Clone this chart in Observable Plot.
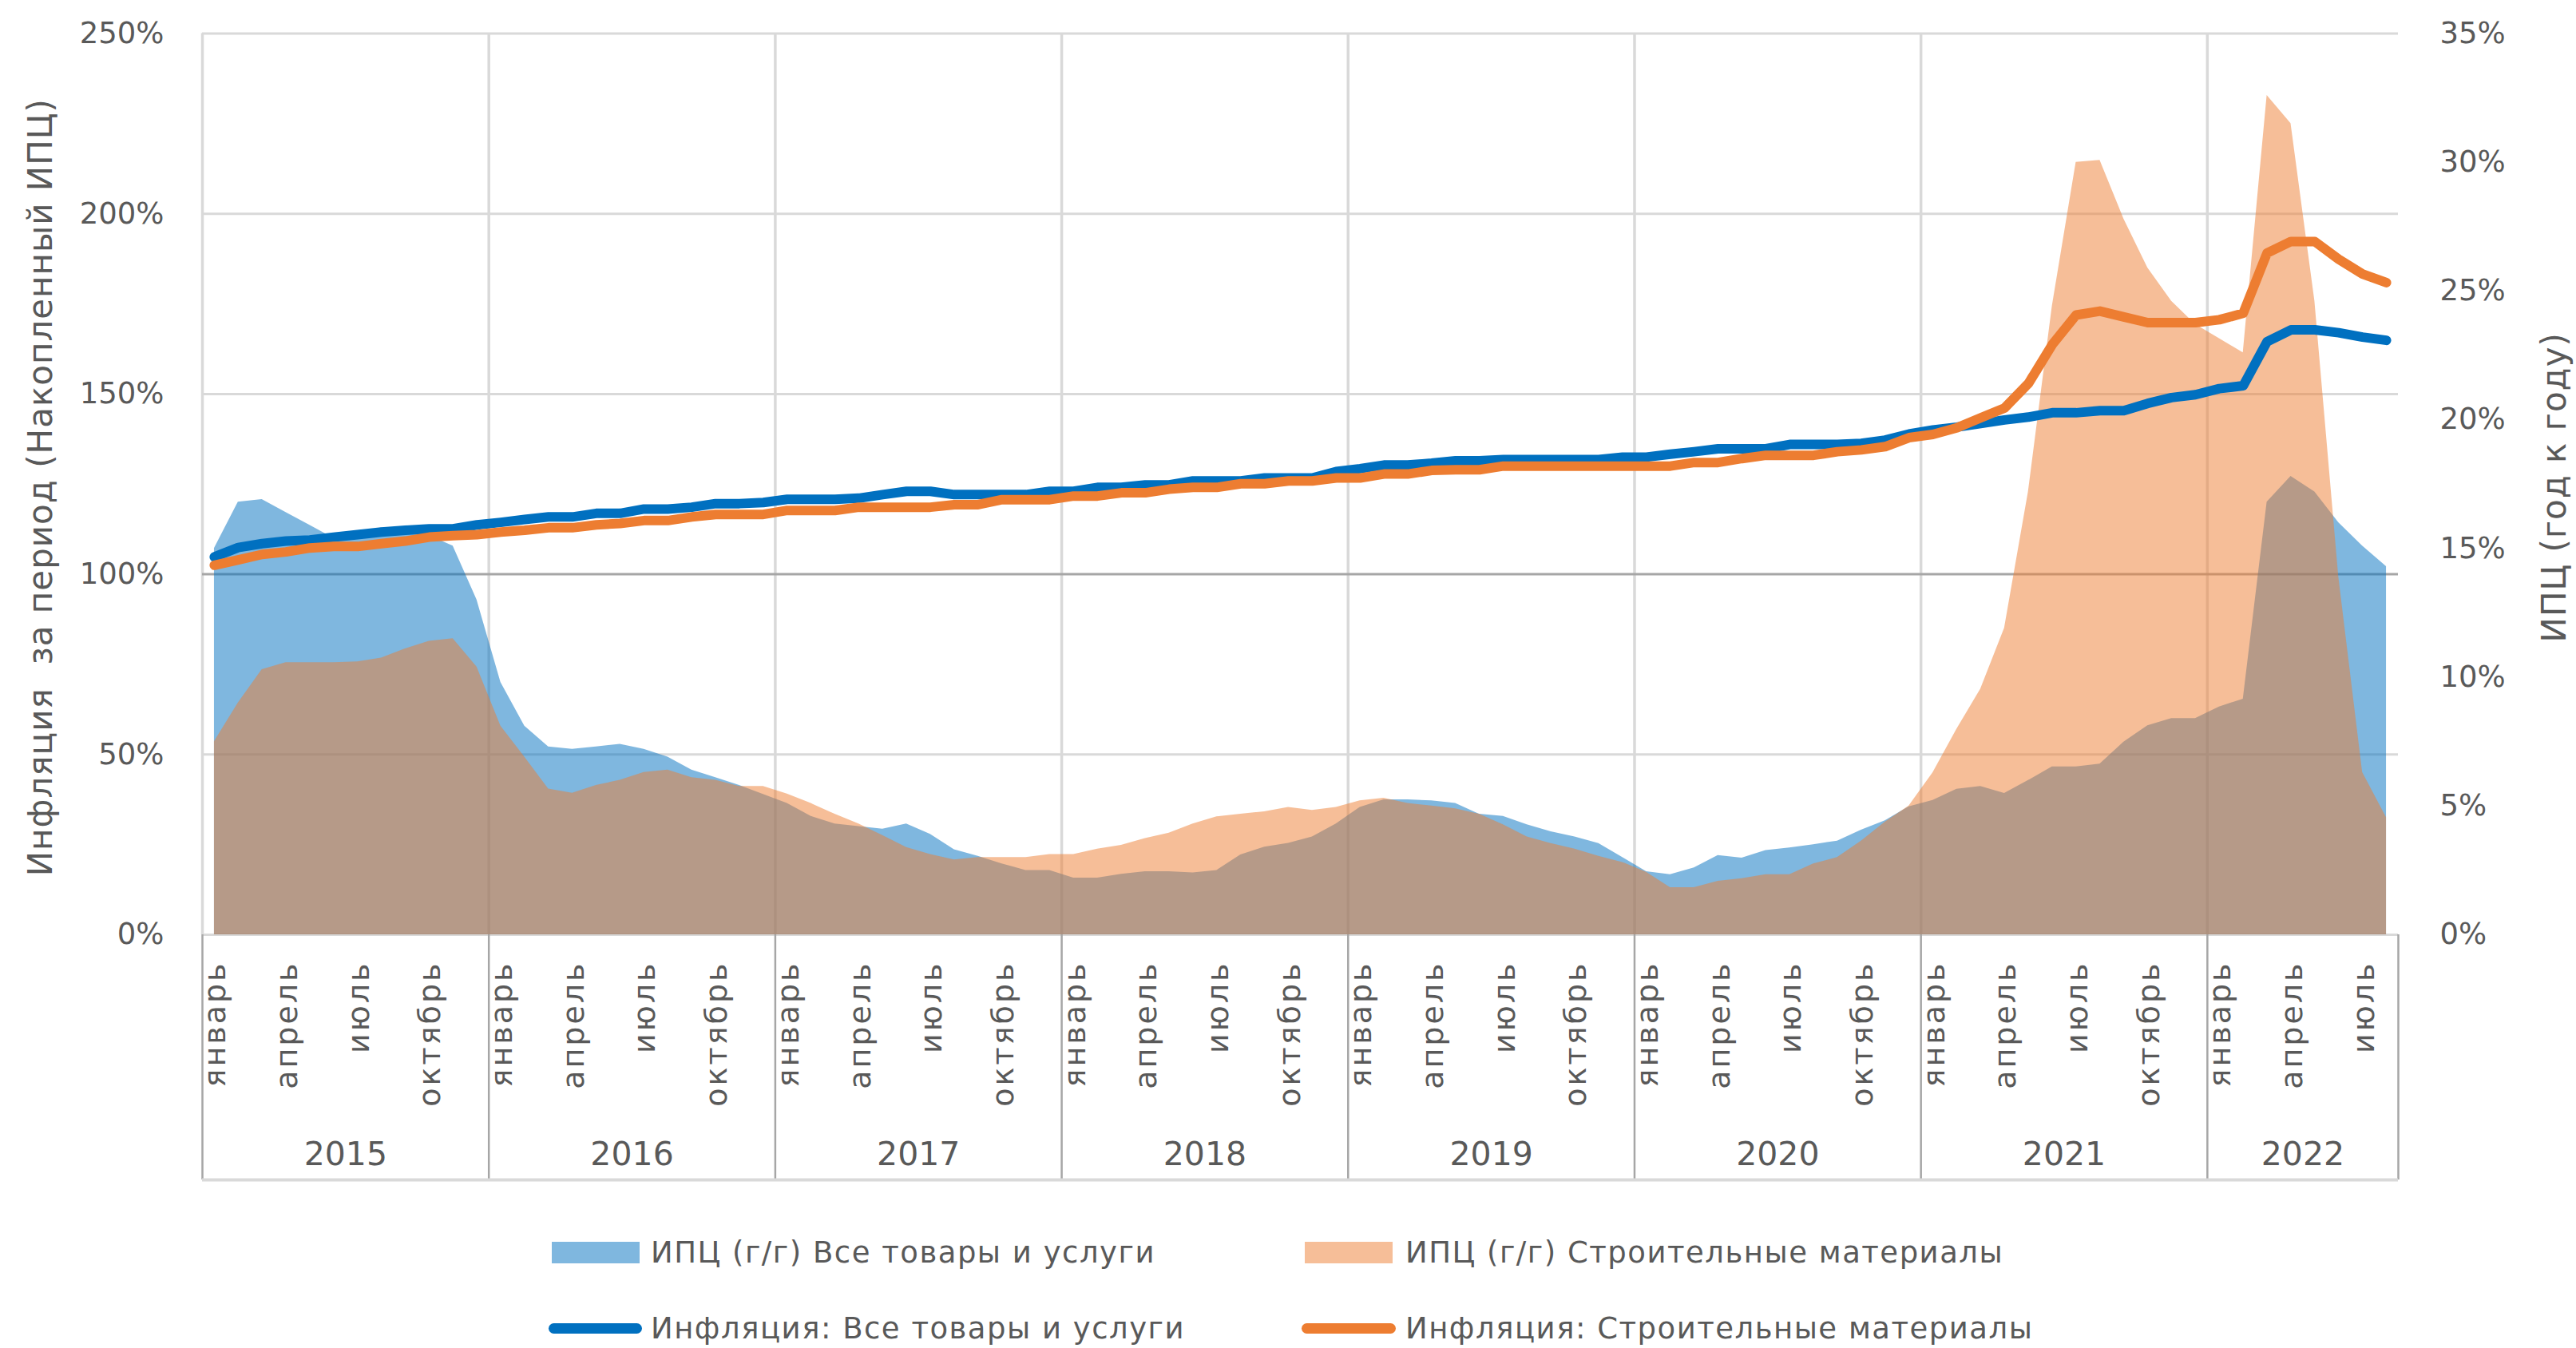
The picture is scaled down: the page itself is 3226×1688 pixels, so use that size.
<!DOCTYPE html>
<html>
<head>
<meta charset="utf-8">
<script src="https://cdn.jsdelivr.net/npm/d3@7"></script>
<script src="https://cdn.jsdelivr.net/npm/@observablehq/plot@0.6"></script>
<style>
html, body { margin: 0; padding: 0; background: #fff; overflow: hidden; }
#wrap { position: relative; width: 3226px; height: 1688px; font-family: "DejaVu Sans", sans-serif; color: #595959; }
#chart { position: absolute; left: 0; top: 0; }
.sw { position: absolute; }
.lt { position: absolute; transform: translateY(-50%); font-size: 37px; letter-spacing: 1.5px; white-space: nowrap; line-height: 1; color: #595959; }
</style>
</head>
<body>
<div id="wrap">
  <div id="chart"></div>
  <div id="legend"></div>
</div>
<script>
// ---- data ----
const years = [2015, 2016, 2017, 2018, 2019, 2020, 2021, 2022];
const monthsInYear = [12, 12, 12, 12, 12, 12, 12, 8];
const monthNames = ["январь", "апрель", "июль", "октябрь"]; // labels for months 1, 4, 7, 10
const leftTicks = [0, 50, 100, 150, 200, 250];
const rightTicks = [0, 5, 10, 15, 20, 25, 30, 35];

// ИПЦ (г/г) Все товары и услуги, % (right axis)
const cpiAll = [
  15.0, 16.8, 16.9, 16.4, 15.9, 15.4, 15.6, 15.8, 15.7, 15.5, 15.1, 13.0,
  9.8, 8.1, 7.3, 7.2, 7.3, 7.4, 7.2, 6.9, 6.4, 6.1, 5.8, 5.45,
  5.1, 4.6, 4.3, 4.2, 4.1, 4.3, 3.9, 3.3, 3.05, 2.75, 2.5, 2.5,
  2.2, 2.2, 2.35, 2.45, 2.45, 2.4, 2.5, 3.1, 3.4, 3.55, 3.8, 4.3,
  4.95, 5.24, 5.24, 5.2, 5.1, 4.68, 4.6, 4.27, 4.0, 3.8, 3.54, 3.0,
  2.45, 2.33, 2.6, 3.08, 2.98, 3.27, 3.37, 3.5, 3.64, 4.06, 4.43, 4.97,
  5.22, 5.65, 5.76, 5.49, 5.99, 6.52, 6.52, 6.63, 7.48, 8.12, 8.4, 8.4,
  8.85, 9.15, 16.8, 17.8, 17.2, 16.0, 15.1, 14.3
];
// ИПЦ (г/г) Строительные материалы, % (right axis)
const cpiBuild = [
  7.5, 9.0, 10.3, 10.57, 10.57, 10.57, 10.6, 10.75, 11.1, 11.4, 11.5, 10.4,
  8.1, 6.9, 5.66, 5.5, 5.8, 6.0, 6.3, 6.4, 6.1, 6.0, 5.76, 5.76,
  5.47, 5.1, 4.68, 4.3, 3.85, 3.39, 3.12, 2.91, 3.0, 3.0, 3.0, 3.12,
  3.12, 3.33, 3.47, 3.74, 3.95, 4.3, 4.58, 4.68, 4.78, 4.95, 4.83, 4.95,
  5.2, 5.3, 5.1, 5.0, 4.89, 4.68, 4.27, 3.8, 3.54, 3.33, 3.05, 2.81,
  2.43, 1.83, 1.83, 2.08, 2.18, 2.33, 2.33, 2.75, 3.0, 3.64, 4.37, 5.0,
  6.29, 7.98, 9.54, 11.9, 17.2, 24.4, 30.0, 30.08, 27.8, 25.9, 24.6, 23.7,
  23.15, 22.6, 32.6, 31.5, 24.6, 13.9, 6.3, 4.55
];
// Инфляция: Все товары и услуги, % (left axis, cumulative)
const cumAll = [
  104.8, 107.4, 108.5, 109.2, 109.5, 110.3, 111.0, 111.7, 112.2, 112.6, 112.6, 113.7,
  114.4, 115.2, 115.9, 115.9, 116.9, 116.9, 118.1, 118.1, 118.6, 119.6, 119.6, 119.9,
  120.8, 120.8, 120.8, 121.1, 122.1, 123.0, 123.0, 122.1, 122.1, 122.1, 122.1, 123.0,
  123.0, 124.1, 124.1, 124.8, 124.8, 125.9, 125.9, 125.9, 126.7, 126.7, 126.7, 128.5,
  129.3, 130.3, 130.3, 130.8, 131.5, 131.5, 131.8, 131.8, 131.8, 131.8, 131.8, 132.5,
  132.5, 133.3, 134.0, 134.8, 134.8, 134.8, 136.0, 136.0, 136.0, 136.3, 137.2, 138.9,
  140.0, 140.8, 141.8, 142.8, 143.6, 144.8, 144.8, 145.4, 145.4, 147.4, 149.0, 149.8,
  151.5, 152.3, 164.5, 167.8, 167.8, 167.0, 165.8, 164.9
];
// Инфляция: Строительные материалы, % (left axis, cumulative)
const cumBuild = [
  102.5, 104.0, 105.5, 106.2, 107.3, 107.7, 107.7, 108.5, 109.2, 110.3, 110.7, 111.0,
  111.7, 112.2, 112.9, 112.9, 113.7, 114.1, 114.9, 114.9, 115.9, 116.6, 116.6, 116.6,
  117.7, 117.7, 117.7, 118.6, 118.6, 118.6, 118.6, 119.3, 119.3, 120.7, 120.7, 120.7,
  121.7, 121.7, 122.6, 122.6, 123.6, 124.1, 124.1, 125.1, 125.1, 125.9, 125.9, 126.7,
  126.7, 127.8, 127.8, 128.8, 129.0, 129.0, 130.0, 130.0, 130.0, 130.0, 130.0, 130.0,
  130.0, 130.0, 131.0, 131.0, 132.1, 133.0, 133.0, 133.0, 134.0, 134.5, 135.4, 137.9,
  138.8, 140.6, 143.4, 146.1, 152.9, 163.7, 171.9, 173.0, 171.4, 169.8, 169.8, 169.8,
  170.6, 172.4, 189.1, 192.3, 192.3, 187.4, 183.3, 180.9
];

const leftTitle = "Инфляция  за период (Накопленный ИПЦ)";
const rightTitle = "ИПЦ (год к году)";
const legendLabels = [
  "ИПЦ (г/г) Все товары и услуги",
  "ИПЦ (г/г) Строительные материалы",
  "Инфляция: Все товары и услуги",
  "Инфляция: Строительные материалы"
];
const colBlue = "#0070C0", colOrange = "#ED7D31";

// ---- build ----
const N = cumAll.length;
const K = 250 / 35; // right axis (0–35%) mapped onto left axis (0–250%)
const rows = d3.range(N).map(i => ({i, all: cpiAll[i], build: cpiBuild[i], cumA: cumAll[i], cumB: cumBuild[i]}));
const yearStart = [];
{ let s = 0; monthsInYear.forEach(m => { yearStart.push(s); s += m; }); }
const bounds = [...yearStart.map(v => v - 0.5), N - 0.5];
const yearRows = years.map((y, k) => ({year: String(y), center: yearStart[k] + (monthsInYear[k] - 1) / 2}));
const monthRows = rows.filter(d => (d.i % 12) % 3 === 0).map(d => ({i: d.i, label: monthNames[(d.i % 12) / 3]}));
const catBottom = -68; // bottom of the category table, in left-axis units

const H = 1490;
const chart = Plot.plot({
  width: 3226, height: H,
  marginLeft: 253, marginRight: 223, marginTop: 41.5, marginBottom: H - 1170,
  x: {type: "linear", domain: [-0.5, N - 0.5], axis: null},
  y: {domain: [0, 250], axis: null},
  style: {fontFamily: "DejaVu Sans, sans-serif", background: "white", overflow: "visible"},
  marks: [
    Plot.ruleY(leftTicks.filter(v => v !== 100), {stroke: "#D9D9D9", strokeWidth: 3}),
    Plot.ruleX(bounds.slice(0, -1), {y1: 0, y2: 250, stroke: "#D9D9D9", strokeWidth: 3.5}),
    Plot.ruleY([100], {stroke: "#A6A6A6", strokeWidth: 3}),
    Plot.ruleX(bounds, {y1: 0, y2: catBottom, stroke: "#A6A6A6", strokeWidth: 2.5}),
    Plot.ruleY([catBottom], {x1: -0.5, x2: N - 0.5, stroke: "#D9D9D9", strokeWidth: 4}),
    Plot.areaY(rows, {x: "i", y: d => d.all * K, fill: colBlue, fillOpacity: 0.5}),
    Plot.areaY(rows, {x: "i", y: d => d.build * K, fill: colOrange, fillOpacity: 0.5}),
    Plot.lineY(rows, {x: "i", y: "cumA", stroke: colBlue, strokeWidth: 12, strokeLinecap: "round", strokeLinejoin: "round"}),
    Plot.lineY(rows, {x: "i", y: "cumB", stroke: colOrange, strokeWidth: 12, strokeLinecap: "round", strokeLinejoin: "round"}),
    Plot.text(leftTicks, {y: d => d, text: d => d + "%", frameAnchor: "left", dx: -48, textAnchor: "end", fontSize: 37, fill: "#595959"}),
    Plot.text(rightTicks, {y: d => d * K, text: d => d + "%", frameAnchor: "right", dx: 52, textAnchor: "start", fontSize: 37, fill: "#595959"}),
    Plot.text(monthRows, {x: "i", text: "label", frameAnchor: "bottom", dx: 14, dy: 33, rotate: -90, textAnchor: "end", fontSize: 38, fill: "#595959"}),
    Plot.text(yearRows, {x: "center", text: "year", frameAnchor: "bottom", dy: 288, textAnchor: "middle", fontSize: 41, fill: "#595959"}),
    Plot.text([leftTitle], {text: d => d, frameAnchor: "left", dx: -202, dy: 4, rotate: -90, textAnchor: "middle", fontSize: 42, fill: "#595959"}),
    Plot.text([rightTitle], {text: d => d, frameAnchor: "right", dx: 196, dy: 4, rotate: -90, textAnchor: "middle", fontSize: 42, fill: "#595959"})
  ]
});
document.getElementById("chart").appendChild(chart);
d3.select(chart).selectAll("text")
  .filter(function() { return monthNames.includes(this.textContent); })
  .attr("letter-spacing", "3px");
d3.select(chart).selectAll("text")
  .filter(function() { return this.textContent === leftTitle || this.textContent === rightTitle; })
  .attr("letter-spacing", "1px");

// ---- legend ----
const leg = document.getElementById("legend");
const items = [
  {kind: "box", color: "rgba(0,112,192,0.5)", sx: 691, sw: 110, tx: 815, cy: 1568, label: legendLabels[0]},
  {kind: "box", color: "rgba(237,125,49,0.5)", sx: 1634, sw: 110, tx: 1760, cy: 1568, label: legendLabels[1]},
  {kind: "line", color: colBlue, sx: 687, sw: 117, tx: 815, cy: 1663, label: legendLabels[2]},
  {kind: "line", color: colOrange, sx: 1630, sw: 118, tx: 1760, cy: 1663, label: legendLabels[3]}
];
items.forEach(it => {
  const s = document.createElement("div");
  s.className = "sw";
  const h = it.kind === "box" ? 27 : 13;
  s.style.left = it.sx + "px";
  s.style.width = it.sw + "px";
  s.style.top = (it.cy - h / 2) + "px";
  s.style.height = h + "px";
  s.style.background = it.color;
  if (it.kind === "line") s.style.borderRadius = "6.5px";
  leg.appendChild(s);
  const t = document.createElement("div");
  t.className = "lt";
  t.style.left = it.tx + "px";
  t.style.top = it.cy + "px";
  t.textContent = it.label;
  leg.appendChild(t);
});
</script>
</body>
</html>
